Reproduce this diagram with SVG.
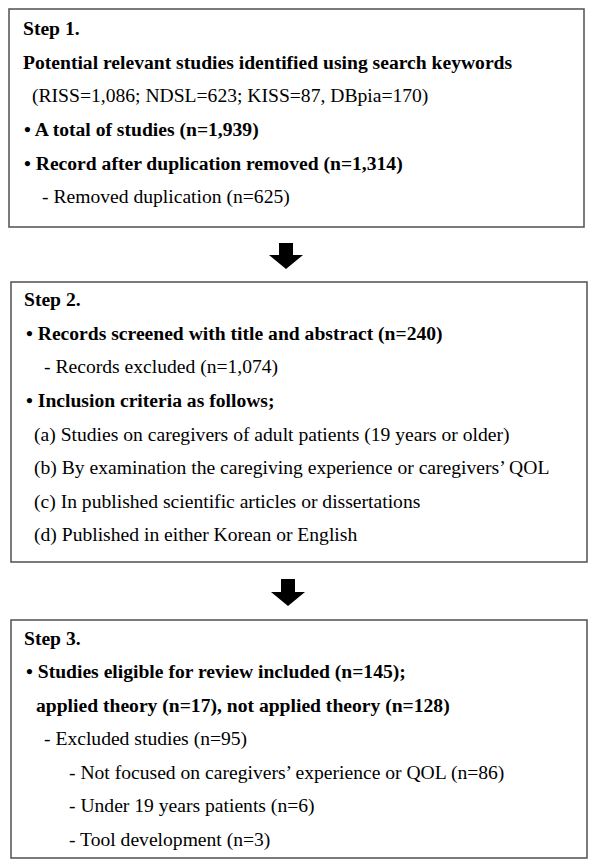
<svg xmlns="http://www.w3.org/2000/svg" width="600" height="866" viewBox="0 0 600 866">
<style>
.box{fill:#fff;stroke:#5a5a5a;stroke-width:1.6}
text{font-family:"Liberation Serif","Times New Roman",serif;font-size:19.6px;fill:#000}
.b{font-weight:bold}
.arrow{fill:#000}
</style>
<rect width="600" height="866" fill="#fff"/>
<g id="step1">
<rect class="box" x="9" y="9" width="575" height="218"/>
<text class="b" x="23" y="35">Step 1.</text>
<text class="b" x="23" y="69">Potential relevant studies identified using search keywords</text>
<text x="32" y="102">(RISS=1,086; NDSL=623; KISS=87, DBpia=170)</text>
<text class="b" x="24" y="136">• A total of studies (n=1,939)</text>
<text class="b" x="24" y="170">• Record after duplication removed (n=1,314)</text>
<text x="42" y="203">- Removed duplication (n=625)</text>
</g>
<g id="step2">
<rect class="box" x="11" y="282" width="576" height="280"/>
<text class="b" x="24" y="306">Step 2.</text>
<text class="b" x="26" y="340">• Records screened with title and abstract (n=240)</text>
<text x="44" y="373">- Records excluded (n=1,074)</text>
<text class="b" x="26" y="407">• Inclusion criteria as follows;</text>
<text x="34" y="441">(a) Studies on caregivers of adult patients (19 years or older)</text>
<text x="34" y="474">(b) By examination the caregiving experience or caregivers’ QOL</text>
<text x="34" y="508">(c) In published scientific articles or dissertations</text>
<text x="34" y="541">(d) Published in either Korean or English</text>
</g>
<g id="step3">
<rect class="box" x="11" y="620" width="576" height="238"/>
<text class="b" x="24" y="645">Step 3.</text>
<text class="b" x="26" y="678">• Studies eligible for review included (n=145);</text>
<text class="b" x="36" y="712">applied theory (n=17), not applied theory (n=128)</text>
<text x="44" y="745">- Excluded studies (n=95)</text>
<text x="69" y="779">- Not focused on caregivers’ experience or QOL (n=86)</text>
<text x="69" y="812">- Under 19 years patients (n=6)</text>
<text x="69" y="846">- Tool development (n=3)</text>
</g>
<g id="connectors">
<polygon class="arrow" points="279,243 293,243 293,255 303,255 286,269 269,255 279,255"/>
<polygon class="arrow" points="281,579 295,579 295,592 305,592 288,606 271,592 281,592"/>
</g>
</svg>
